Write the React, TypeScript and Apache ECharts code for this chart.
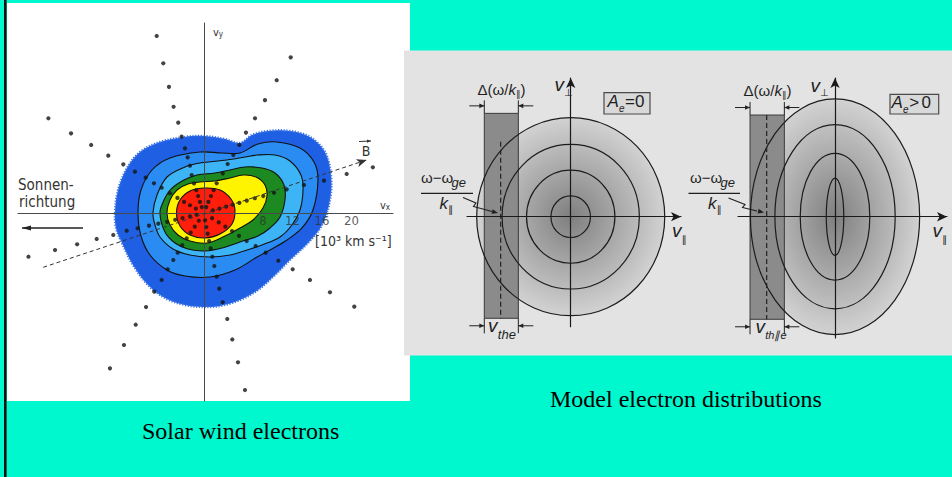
import React, { useEffect, useRef } from "react";
import * as echarts from "echarts";

// ---------------- Solar wind electrons (units: 10^3 km/s) ----------------
const xTickValues = [8, 12, 16, 20];

// contour levels, outermost first (vx, vy)
const contourOuter = [
  [-12.07, 0], [-11.66, 3.12], [-10.44, 6.1], [-8.68, 8.27], [-5.97, 9.63], [-2.58, 10.31],
  [0, 10.44], [2.85, 10.03], [4.88, 9.49], [6.51, 10.58], [8.68, 11.12], [11.66, 11.12],
  [14.37, 10.31], [16.41, 8.27], [17.22, 5.15], [17.09, 1.76], [16.0, -1.63], [14.1, -4.07],
  [11.66, -6.37], [9.63, -8.41], [7.32, -10.44], [4.88, -11.8], [2.17, -12.61], [0, -12.75],
  [-2.58, -12.48], [-5.29, -11.53], [-7.59, -9.76], [-9.63, -7.05], [-11.12, -4.07], [-11.93, -2.03],
];
const contourBlue2 = [
  [-8.95, 0], [-8.54, 3.12], [-7.05, 5.83], [-4.61, 7.46], [-0.54, 8.27], [2.44, 8.14],
  [4.88, 8.14], [7.32, 9.36], [9.9, 9.63], [13.02, 8.81], [14.92, 6.92], [15.46, 4.47],
  [14.78, 0.41], [13.29, -2.03], [11.26, -3.66], [8.95, -5.02], [7.19, -5.97], [4.2, -7.73],
  [0.81, -8.68], [-2.58, -8.54], [-5.02, -7.73], [-7.32, -5.7], [-8.54, -3.12],
];
const contourBlue3 = [
  [-6.92, 0], [-6.37, 2.44], [-5.02, 4.88], [-2.58, 6.24], [-0.54, 6.78], [3.12, 7.19],
  [5.56, 7.59], [7.19, 7.86], [9.63, 7.86], [11.66, 7.05], [13.15, 5.15], [13.43, 3.12],
  [13.02, 0.41], [11.93, -1.63], [10.31, -3.25], [7.86, -4.34], [5.83, -5.02], [3.53, -5.7],
  [0.81, -5.97], [-1.9, -5.7], [-4.2, -4.88], [-5.97, -3.25], [-6.64, -1.63],
];
const contourGreen = [
  [-5.97, 0], [-5.42, 1.76], [-4.47, 3.25], [-2.71, 4.47], [-0.95, 5.15], [1.49, 5.42],
  [3.53, 5.83], [5.56, 6.24], [7.86, 6.1], [9.63, 5.42], [10.85, 3.8], [10.98, 1.76],
  [10.31, -0.54], [8.95, -2.03], [7.32, -3.12], [4.88, -3.93], [2.44, -4.75], [0.14, -5.15],
  [-2.17, -4.88], [-3.93, -4.07], [-5.29, -2.58],
];
const contourYellow = [
  [-5.02, 0], [-4.61, 1.76], [-3.66, 3.12], [-2.17, 3.93], [-0.54, 4.2], [1.49, 4.34],
  [3.53, 4.75], [5.29, 5.15], [7.05, 4.88], [8.27, 3.8], [8.54, 2.3], [8.0, 0.68],
  [6.64, -0.95], [4.88, -2.03], [2.85, -3.12], [0.41, -4.07], [-1.9, -3.8], [-3.53, -2.98],
  [-4.61, -1.63],
];
const contourRed = [
  [-3.73, 0], [-3.25, 1.76], [-1.9, 2.98], [0.14, 3.39], [2.17, 3.12], [3.66, 1.9],
  [4.2, 0.41], [3.8, -1.49], [2.17, -2.85], [0.14, -3.39], [-1.9, -2.98], [-3.25, -1.76],
];
const contours = [contourOuter, contourBlue2, contourBlue3, contourGreen, contourYellow, contourRed];
const contourFills = ["#1f5fe3", "#2a8cf2", "#3db4f6", "#1c8a20", "#fff400", "#ff1d0c"];

// measured points (stars) along eight directions
const rayN = [[-6.41, 24.0], [-5.52, 20.3], [-4.75, 17.1], [-4.12, 14.4], [-3.49, 12.25], [-3.03, 10.35], [-2.58, 8.77], [-2.21, 7.55], [-1.9, 6.41], [-1.67, 5.15], [-1.35, 4.0], [-1.05, 3.1], [-0.8, 2.3], [-0.55, 1.5], [-0.3, 0.8]];
const rayNE = [[11.76, 21.1], [9.86, 18.0], [8.27, 15.3], [6.92, 12.84], [5.69, 10.9], [4.79, 9.22], [3.97, 7.86], [3.21, 6.64], [2.54, 5.38], [1.72, 4.03], [1.3, 3.1], [0.95, 2.3], [0.6, 1.5], [0.3, 0.8]];
const rayNW = [[-21.1, 12.84], [-18.03, 10.8], [-15.3, 9.22], [-12.98, 7.77], [-10.94, 6.6], [-9.36, 5.6], [-7.9, 4.79], [-6.78, 4.03], [-5.74, 3.43], [-4.61, 2.67], [-3.6, 2.05], [-2.7, 1.5], [-1.9, 1.05], [-1.1, 0.6]];
const rayE = [[22.9, 6.2], [19.35, 5.29], [16.27, 4.38], [13.56, 3.8], [11.21, 3.21], [9.49, 2.75], [8.04, 2.3], [6.9, 2.0], [5.8, 1.67], [4.8, 1.38], [3.9, 1.12], [3.0, 0.86], [2.1, 0.6], [1.2, 0.35]];
const rayW = [[-23.8, -5.93], [-20.2, -5.02], [-17.2, -4.24], [-14.55, -3.52], [-12.3, -2.98], [-10.48, -2.4], [-9.0, -2.07], [-7.46, -1.72], [-6.2, -1.45], [-5.0, -1.2], [-3.9, -0.92], [-2.9, -0.68], [-1.9, -0.45], [-1.0, -0.24]];
const raySW = [[-12.75, -21.06], [-10.85, -17.9], [-9.26, -15.15], [-7.86, -12.75], [-6.74, -10.67], [-5.74, -9.08], [-4.92, -7.63], [-4.16, -6.37], [-3.57, -5.38], [-2.94, -4.34], [-2.35, -3.45], [-1.8, -2.65], [-1.25, -1.85], [-0.7, -1.05]];
const rayS = [[5.56, -24.0], [4.61, -20.24], [3.84, -17.15], [3.16, -14.37], [2.54, -12.1], [2.07, -10.26], [1.72, -8.64], [1.4, -7.19], [1.13, -5.93], [0.9, -4.8], [0.7, -3.8], [0.5, -2.8], [0.32, -1.9], [0.15, -1.0]];
const raySE = [[20.38, -12.7], [17.08, -10.75], [14.37, -9.08], [12.03, -7.63], [10.08, -6.47], [8.37, -5.38], [7.01, -4.47], [5.79, -3.8], [4.75, -3.1], [3.8, -2.45], [2.9, -1.85], [2.0, -1.28], [1.1, -0.7]];
const starRays = [rayN, rayNE, rayNW, rayE, rayW, raySW, rayS, raySE];

// magnetic field direction (dashed line)
const bFieldStart = [-21.8, -7.36];
const bFieldEnd = [22.06, 7.19];

// ---------------- Model electron distributions (normalised velocities) ----------------
// [v_par radius, v_perp radius] of the contours
const ringsIsotropic = [[1, 1], [0.73, 0.73], [0.47, 0.47], [0.21, 0.21]];
const ringsAnisotropic = [[0.9, 1.19], [0.64, 0.93], [0.37, 0.64], [0.093, 0.39]];
// resonance band: [left, right, bottom, top, resonant velocity, dashed-line top]
const bandIsotropic = [-0.919, -0.557, -1.026, 1.044, -0.745, 0.758];
const bandAnisotropic = [-0.904, -0.539, -1.036, 1.027, -0.727, 1.027];

// ---------------- styles ----------------
const CYAN = "#00F8CE";
const leftFont = "'DejaVu Sans Condensed', 'DejaVu Sans', sans-serif";
const sansFont = "'Liberation Sans', Arial, sans-serif";
const symFont = "'DejaVu Sans', sans-serif";
const serifFont = "'Liberation Serif', 'Times New Roman', serif";
const INK = "#1e1e1e";

function headPts(x1: number, y1: number, x2: number, y2: number, len = 6, half = 2.6) {
  const dx = x2 - x1, dy = y2 - y1;
  const L = Math.hypot(dx, dy) || 1;
  const ux = dx / L, uy = dy / L;
  const bx = x2 - ux * len, by = y2 - uy * len;
  return [[x2, y2], [bx - uy * half, by + ux * half], [bx + uy * half, by - ux * half]];
}

function arrowEls(x1: number, y1: number, x2: number, y2: number, color = INK, w = 1, len = 6, half = 2.6, z = 10) {
  return [
    { type: "line", z, shape: { x1, y1, x2, y2 }, style: { stroke: color, lineWidth: w } },
    { type: "polygon", z, shape: { points: headPts(x1, y1, x2, y2, len, half) }, style: { fill: color } },
  ];
}

function txt(x: number, y: number, text: string, size: number, opts: any = {}) {
  return {
    type: "text",
    z: 10,
    x,
    y,
    style: {
      text,
      fontSize: size,
      fontFamily: opts.family || sansFont,
      fontStyle: opts.italic ? "italic" : "normal",
      fill: opts.color || INK,
      align: opts.align || "center",
      verticalAlign: "middle",
    },
  };
}

// token style for rich text
function tk(size: number, lineHeight: number, opts: any = {}) {
  return {
    fontSize: size,
    fontFamily: opts.family || sansFont,
    fontStyle: opts.italic ? "italic" : "normal",
    fill: opts.color || INK,
    color: opts.color || INK,
    lineHeight,
    verticalAlign: opts.va || "middle",
  };
}

function rich(x: number, y: number, text: string, richStyles: any, align = "center") {
  return {
    type: "text",
    z: 10,
    x,
    y,
    style: { text, rich: richStyles, align, verticalAlign: "middle", fontFamily: sansFont, fill: INK },
  };
}

function makeDiagram(rings: number[][], band: number[]) {
  return (_params: any, api: any) => {
    const c = api.coord([0, 0]);
    const children: any[] = [];
    const s0 = api.size(rings[0]);
    children.push({
      type: "ellipse",
      shape: { cx: c[0], cy: c[1], rx: s0[0] / 2, ry: s0[1] / 2 },
      style: {
        fill: {
          type: "radial", x: 0.5, y: 0.5, r: 0.5,
          colorStops: [
            { offset: 0, color: "#7f7f7f" },
            { offset: 0.5, color: "#a9a9a9" },
            { offset: 1, color: "#d2d2d2" },
          ],
        },
      },
    });
    const tl = api.coord([band[0], band[3]]);
    const br = api.coord([band[1], band[2]]);
    const xl = tl[0], xr = br[0], yt = tl[1], yb = br[1];
    children.push({
      type: "rect",
      shape: { x: xl, y: yt, width: xr - xl, height: yb - yt },
      style: { fill: "#8b8b8b", stroke: "#3a3a3a", lineWidth: 1 },
    });
    rings.forEach((r) => {
      const s = api.size(r);
      children.push({
        type: "ellipse",
        shape: { cx: c[0], cy: c[1], rx: s[0] / 2, ry: s[1] / 2 },
        style: { fill: "none", stroke: "#1c1c1c", lineWidth: 1.2 },
      });
    });
    const rt = api.coord([band[4], band[5]]);
    const rb = api.coord([band[4], band[2]]);
    children.push({
      type: "line",
      shape: { x1: rt[0], y1: rt[1], x2: rb[0], y2: rb[1] },
      style: { stroke: "#222", lineWidth: 1.2, lineDash: [5, 3] },
    });
    const ln = (x1: number, y1: number, x2: number, y2: number) => ({
      type: "line", shape: { x1, y1, x2, y2 }, style: { stroke: "#222", lineWidth: 1 },
    });
    children.push(ln(xl, yt - 13, xl, yt), ln(xr, yt - 13, xr, yt), ln(xl, yb, xl, yb + 15), ln(xr, yb, xr, yb + 15));
    const ar = (x1: number, y: number, x2: number) => [
      ln(x1, y, x2, y),
      { type: "polygon", shape: { points: headPts(x1, y, x2, y, 5, 2.3) }, style: { fill: "#222" } },
    ];
    children.push(...ar(xl - 15, yt - 7.5, xl), ...ar(xr + 15, yt - 7.5, xr));
    children.push(...ar(xl - 15, yb + 7.5, xl), ...ar(xr + 15, yb + 7.5, xr));
    return { type: "group", children };
  };
}

export default function App() {
  const ref = useRef<HTMLDivElement>(null);

  useEffect(() => {
    document.body.style.margin = "0";
    if (!ref.current) return;
    const chart = echarts.init(ref.current, undefined, { renderer: "svg" });

    const stars = starRays.flat();

    const el: any[] = [];
    // panels
    el.push({ type: "rect", z: 0, shape: { x: 4, y: 0, width: 2.6, height: 477 }, style: { fill: "#111" } });
    el.push({ type: "rect", z: 0, shape: { x: 7, y: 3, width: 403, height: 398 }, style: { fill: "#ffffff" } });
    el.push({ type: "rect", z: 1, shape: { x: 404, y: 50.5, width: 548, height: 305 }, style: { fill: "#e3e3e3" } });

    // captions
    el.push(txt(142, 431, "Solar wind electrons", 24, { family: serifFont, align: "left", color: "#000" }));
    el.push(txt(550, 399, "Model electron distributions", 24, { family: serifFont, align: "left", color: "#000" }));

    // ---- left panel annotations
    const g = "#333";
    el.push(txt(18, 185, "Sonnen-", 15, { family: leftFont, align: "left", color: g }));
    el.push(txt(19, 201.5, "richtung", 15, { family: leftFont, align: "left", color: g }));
    el.push(...arrowEls(83, 228, 22, 228, "#222", 1.4, 9, 2.6));
    el.push(rich(213, 32, "{v|v}{s|y}", {
      v: tk(11, 12, { family: leftFont, color: g }),
      s: tk(8, 3, { family: leftFont, color: g, va: "bottom" }),
    }, "left"));
    el.push(rich(380, 205, "{v|v}{s|x}", {
      v: tk(11, 12, { family: leftFont, color: g }),
      s: tk(8, 3, { family: leftFont, color: g, va: "bottom" }),
    }, "left"));
    el.push(txt(315, 241, "[10³ km s⁻¹]", 14, { family: leftFont, align: "left", color: g }));
    el.push(txt(366, 150.5, "B", 14, { family: leftFont, color: g }));
    el.push(...arrowEls(359, 141.5, 371, 141, g, 1, 4, 1.6));

    const deltaStyles = {
      n: tk(15, 18),
      i: tk(15, 18, { italic: true }),
      s: tk(9, 11, { va: "bottom", family: symFont }),
    };
    const L = (x: number, y: number, t: string, size: number, italic = false) =>
      txt(x, y, t, size, { align: "left", italic });
    const S = (x: number, y: number, t: string, size = 10) =>
      txt(x, y, t, size, { align: "left", family: symFont, color: "#1a1a1a" });

    // ---- diagram A (A_e = 0)
    el.push(rich(501.5, 89, "{n|Δ(ω/}{i|k}{s|∥}{n|)}", deltaStyles));
    el.push(L(554.5, 84.5, "v", 19, true), S(564, 92, "⊥"));
    el.push({ type: "rect", z: 10, shape: { x: 604, y: 92.7, width: 46, height: 21.3 }, style: { fill: "#d9d9d9", stroke: "#4a4a4a", lineWidth: 1.2 } });
    el.push(L(607.5, 101.5, "A", 17, true), L(619, 108.5, "e", 10, true), L(625, 101.5, "=0", 17));
    el.push(L(421, 177.5, "ω−ω", 15), L(451.5, 182.5, "ge", 13, true));
    el.push({ type: "line", z: 10, shape: { x1: 421, y1: 193.3, x2: 473, y2: 193.3 }, style: { stroke: INK, lineWidth: 1.2 } });
    el.push(L(439.5, 203.5, "k", 17, true), S(448.3, 209, "∥"));
    el.push({ type: "polyline", z: 10, shape: { points: [[463, 197.5], [476, 203], [473.5, 206.5], [492, 211.5]] }, style: { stroke: INK, lineWidth: 1.1, fill: "none" } });
    el.push({ type: "polygon", z: 10, shape: { points: headPts(480, 208.5, 498, 213, 6, 2.4) }, style: { fill: INK } });
    el.push(L(488, 325.5, "v", 19, true), L(497.8, 334.5, "the", 13, true));
    el.push(L(672, 230.5, "v", 19, true), S(681.7, 239, "∥"));

    // ---- diagram B (A_e > 0)
    el.push(rich(767.5, 90, "{n|Δ(ω/}{i|k}{s|∥}{n|)}", deltaStyles));
    el.push(L(810.5, 85.5, "v", 19, true), S(820, 92.5, "⊥"));
    el.push({ type: "rect", z: 10, shape: { x: 890, y: 94.3, width: 48.7, height: 19.7 }, style: { fill: "#d9d9d9", stroke: "#4a4a4a", lineWidth: 1.2 } });
    el.push(L(891.5, 102.5, "A", 17, true), L(903, 109, "e", 10, true), L(909.2, 102.5, ">", 17), L(921.5, 102.5, "0", 17));
    el.push(L(690, 177, "ω−ω", 15), L(720.5, 182, "ge", 13, true));
    el.push({ type: "line", z: 10, shape: { x1: 688.5, y1: 193.3, x2: 740, y2: 193.3 }, style: { stroke: INK, lineWidth: 1.2 } });
    el.push(L(708, 203, "k", 17, true), S(716.8, 209, "∥"));
    el.push({ type: "polyline", z: 10, shape: { points: [[728.5, 198], [745, 204.5], [742.5, 207.5], [757, 211]] }, style: { stroke: INK, lineWidth: 1.1, fill: "none" } });
    el.push({ type: "polygon", z: 10, shape: { points: headPts(745, 208.2, 764, 212.5, 6, 2.4) }, style: { fill: INK } });
    el.push(L(755.5, 326, "v", 19, true), L(765.3, 334.5, "th∥e", 11, true));
    el.push(L(932.5, 230.5, "v", 19, true), S(942.2, 239, "∥"));

    const hidden = { show: false };
    const diagAxis = (min: number, max: number, gi: number) => ({
      gridIndex: gi,
      type: "value",
      min,
      max,
      z: 5,
      axisLine: { onZero: true, symbol: ["none", "arrow"], symbolSize: [7, 10], lineStyle: { color: "#1a1a1a", width: 1.2 } },
      axisTick: hidden,
      axisLabel: hidden,
      splitLine: hidden,
    });

    const option: any = {
      animation: false,
      backgroundColor: CYAN,
      grid: [
        { left: 18, top: 23, width: 375, height: 378, outerBoundsMode: "none" },
        { left: 467, top: 78, width: 214, height: 248.7, outerBoundsMode: "none" },
        { left: 738, top: 78, width: 209, height: 260, outerBoundsMode: "none" },
      ],
      xAxis: [
        {
          gridIndex: 0,
          type: "value",
          min: -25.22,
          max: 25.63,
          z: 3,
          axisLine: { onZero: true, lineStyle: { color: "#4a4a4a", width: 1 } },
          axisTick: hidden,
          splitLine: hidden,
          axisLabel: hidden,
        },
        diagAxis(-1.103, 1.173, 1),
        diagAxis(-1.032, 1.191, 2),
      ],
      yAxis: [
        {
          gridIndex: 0,
          type: "value",
          min: -25.49,
          max: 25.76,
          z: 3,
          axisLine: { onZero: true, lineStyle: { color: "#4a4a4a", width: 1 } },
          axisTick: hidden,
          splitLine: hidden,
          axisLabel: hidden,
        },
        diagAxis(-1.111, 1.401, 1),
        diagAxis(-1.225, 1.401, 2),
      ],
      series: [
        {
          type: "custom",
          xAxisIndex: 0,
          yAxisIndex: 0,
          z: 2,
          silent: true,
          data: contours.map(() => [0, 0]),
          renderItem: (params: any, api: any) => {
            const i = params.dataIndex;
            const pts = contours[i].map((p) => api.coord(p));
            return {
              type: "polygon",
              shape: { points: pts, smooth: 0.35 },
              style: i === 0
                ? { fill: contourFills[0], stroke: "#3a72e6", lineWidth: 2.4, lineDash: [1.2, 1.6] }
                : { fill: contourFills[i], stroke: "#111", lineWidth: 1.1 },
            };
          },
        },
        {
          type: "scatter",
          xAxisIndex: 0,
          yAxisIndex: 0,
          z: 4,
          silent: true,
          symbol: "circle",
          symbolSize: 4.2,
          itemStyle: { color: "#141414" },
          data: stars,
          markLine: {
            silent: true,
            symbol: ["none", "arrow"],
            symbolSize: [6, 10],
            label: { show: false },
            lineStyle: { type: [4, 3], color: "#333", width: 1 },
            data: [[{ coord: bFieldStart }, { coord: bFieldEnd }]],
          },
        },
        {
          // tick labels on the v_x axis
          type: "scatter",
          xAxisIndex: 0,
          yAxisIndex: 0,
          z: 5,
          silent: true,
          symbol: "circle",
          symbolSize: 1,
          itemStyle: { color: "rgba(0,0,0,0)" },
          data: xTickValues.map((v) => [v, 0]),
          label: {
            show: true,
            position: "bottom",
            distance: 1,
            formatter: (p: any) => String(p.value[0]),
            fontSize: 13,
            fontFamily: leftFont,
            color: "#333",
          },
        },
        {
          type: "custom",
          xAxisIndex: 1,
          yAxisIndex: 1,
          z: 2,
          silent: true,
          data: [[0, 0]],
          renderItem: makeDiagram(ringsIsotropic.map((r) => [r[0] * 2, r[1] * 2]), bandIsotropic),
        },
        {
          type: "custom",
          xAxisIndex: 2,
          yAxisIndex: 2,
          z: 2,
          silent: true,
          data: [[0, 0]],
          renderItem: makeDiagram(ringsAnisotropic.map((r) => [r[0] * 2, r[1] * 2]), bandAnisotropic),
        },
      ],
      graphic: { elements: el },
    };

    chart.setOption(option);
    return () => chart.dispose();
  }, []);

  return <div ref={ref} style={{ width: 952, height: 477 }} />;
}
